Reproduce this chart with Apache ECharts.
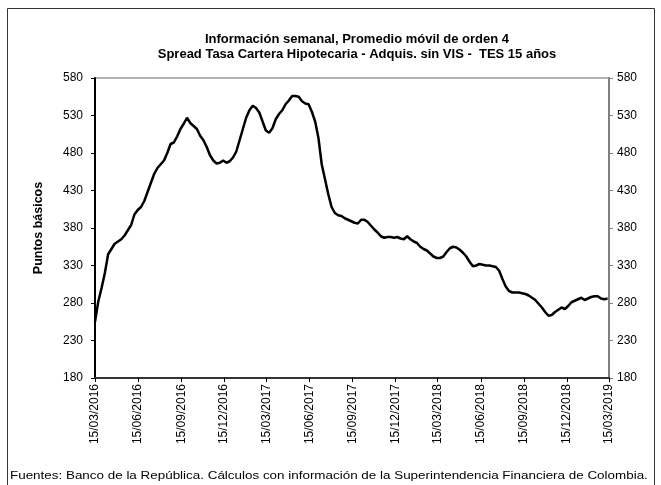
<!DOCTYPE html>
<html>
<head>
<meta charset="utf-8">
<script src="https://cdn.jsdelivr.net/npm/echarts@6/dist/echarts.min.js"></script>
<style>
  html, body { margin: 0; padding: 0; background: #fff; }
  #chart { width: 661px; height: 485px; }
</style>
</head>
<body>
<div id="chart"></div>
<script>
// semanas desde 15/03/2016
var startDate = Date.UTC(2016, 2, 15)
var spread = [
    255, 282, 300, 320, 345, 352, 359, 362, 365, 370,
    377, 384, 398, 404, 408, 416, 428, 440, 452, 460,
    465, 470, 480, 492, 494, 502, 512, 519, 527, 520,
    516, 512, 503, 497, 488, 477, 470, 466, 467, 470,
    467, 469, 474, 482, 497, 512, 527, 537, 543, 540,
    534, 522, 510, 507, 513, 525, 532, 537, 545, 550,
    556, 556, 555, 549, 546, 545, 535, 522, 500, 465,
    445, 425, 408, 400, 397, 396, 393, 391, 389, 387,
    386, 391, 391, 388, 383, 378, 374, 369, 367, 368,
    368, 367, 368, 366, 365, 369, 365, 362, 360, 355,
    352, 350, 346, 342, 340, 340, 342, 348, 353, 355,
    354, 351, 347, 342, 335, 329, 330, 332, 331, 330,
    330, 329, 328, 323, 312, 302, 296, 294, 294, 294,
    293, 292, 290, 287, 284, 279, 274, 268, 263, 264,
    268, 271, 274, 272, 276, 281, 283, 285, 287, 284,
    286, 288, 289, 289, 286, 285, 286
]
var tickDates = [
    '2016-03-15', '2016-06-15', '2016-09-15', '2016-12-15',
    '2017-03-15', '2017-06-15', '2017-09-15', '2017-12-15',
    '2018-03-15', '2018-06-15', '2018-09-15', '2018-12-15',
    '2019-03-15'
]
var titleLines = [
    'Información semanal, Promedio móvil de orden 4',
    'Spread Tasa Cartera Hipotecaria - Adquis. sin VIS -  TES 15 años'
]
var footer = 'Fuentes: Banco de la República. Cálculos con información de la Superintendencia Financiera de Colombia.'

function toUTC(s) {
    var p = s.split('-')
    return Date.UTC(+p[0], +p[1] - 1, +p[2])
}
var tickValues = tickDates.map(toUTC)
var seriesData = spread.map(function (v, i) {
    return [startDate + i * 7 * 86400000, v]
})
function fmt(t) {
    var d = new Date(t)
    var dd = ('0' + d.getUTCDate()).slice(-2)
    var mm = ('0' + (d.getUTCMonth() + 1)).slice(-2)
    return dd + '/' + mm + '/' + d.getUTCFullYear()
}

var font = 'Arial, "Liberation Sans", sans-serif'
var myChart = echarts.init(document.getElementById('chart'))
var option = {
    animation: false,
    backgroundColor: '#fff',
    title: {
        text: titleLines.join('\n'),
        left: 352,
        top: 27,
        textAlign: 'center',
        textStyle: {
            fontFamily: font,
            fontSize: 13,
            fontWeight: 'bold',
            color: '#000',
            lineHeight: 15
        }
    },
    graphic: [
        {
            type: 'rect',
            shape: { x: 7.5, y: 8.5, width: 647, height: 490 },
            style: { fill: null, stroke: '#333', lineWidth: 1 },
            silent: true
        },
        {
            // pie de fuente, estirado como en el original
            type: 'text',
            x: 10,
            y: 470,
            scaleX: 1.22,
            style: {
                text: footer,
                font: '11px ' + font,
                fill: '#000'
            }
        }
    ],
    grid: {
        left: 95,
        right: 52,
        top: 78,
        bottom: 107,
        show: true,
        borderColor: '#666',
        borderWidth: 1
    },
    xAxis: {
        type: 'value',
        min: tickValues[0],
        max: tickValues[tickValues.length - 1],
        splitLine: { show: false },
        axisLine: { lineStyle: { color: '#333', width: 2 } },
        axisTick: {
            show: true,
            customValues: tickValues,
            length: 4,
            lineStyle: { color: '#000', width: 1 }
        },
        axisLabel: {
            customValues: tickValues,
            rotate: 90,
            margin: 6,
            fontSize: 12,
            fontFamily: font,
            color: '#000',
            formatter: function (v) { return fmt(v) }
        }
    },
    yAxis: [{
        type: 'value',
        min: 180,
        max: 580,
        interval: 50,
        position: 'left',
        name: 'Puntos básicos',
        nameLocation: 'middle',
        nameGap: 50,
        nameTextStyle: {
            fontFamily: font,
            fontSize: 12.5,
            fontWeight: 'bold',
            color: '#000'
        },
        splitLine: { show: false },
        axisLine: { show: true, lineStyle: { color: '#000', width: 2 } },
        axisTick: { show: true, length: 4, lineStyle: { color: '#000' } },
        axisLabel: { fontSize: 12, fontFamily: font, color: '#000', margin: 12 }
    }, {
        type: 'value',
        min: 180,
        max: 580,
        interval: 50,
        position: 'right',
        splitLine: { show: false },
        axisLine: { show: true, lineStyle: { color: '#808080', width: 2 } },
        axisTick: { show: true, length: 4, lineStyle: { color: '#808080' } },
        axisLabel: { fontSize: 12, fontFamily: font, color: '#000', margin: 8 }
    }],
    series: [
        {
            type: 'line',
            data: seriesData,
            yAxisIndex: 0,
            showSymbol: false,
            smooth: false,
            lineStyle: { color: '#000', width: 2.5 }
        }
    ]
}
myChart.setOption(option)
</script>
</body>
</html>
